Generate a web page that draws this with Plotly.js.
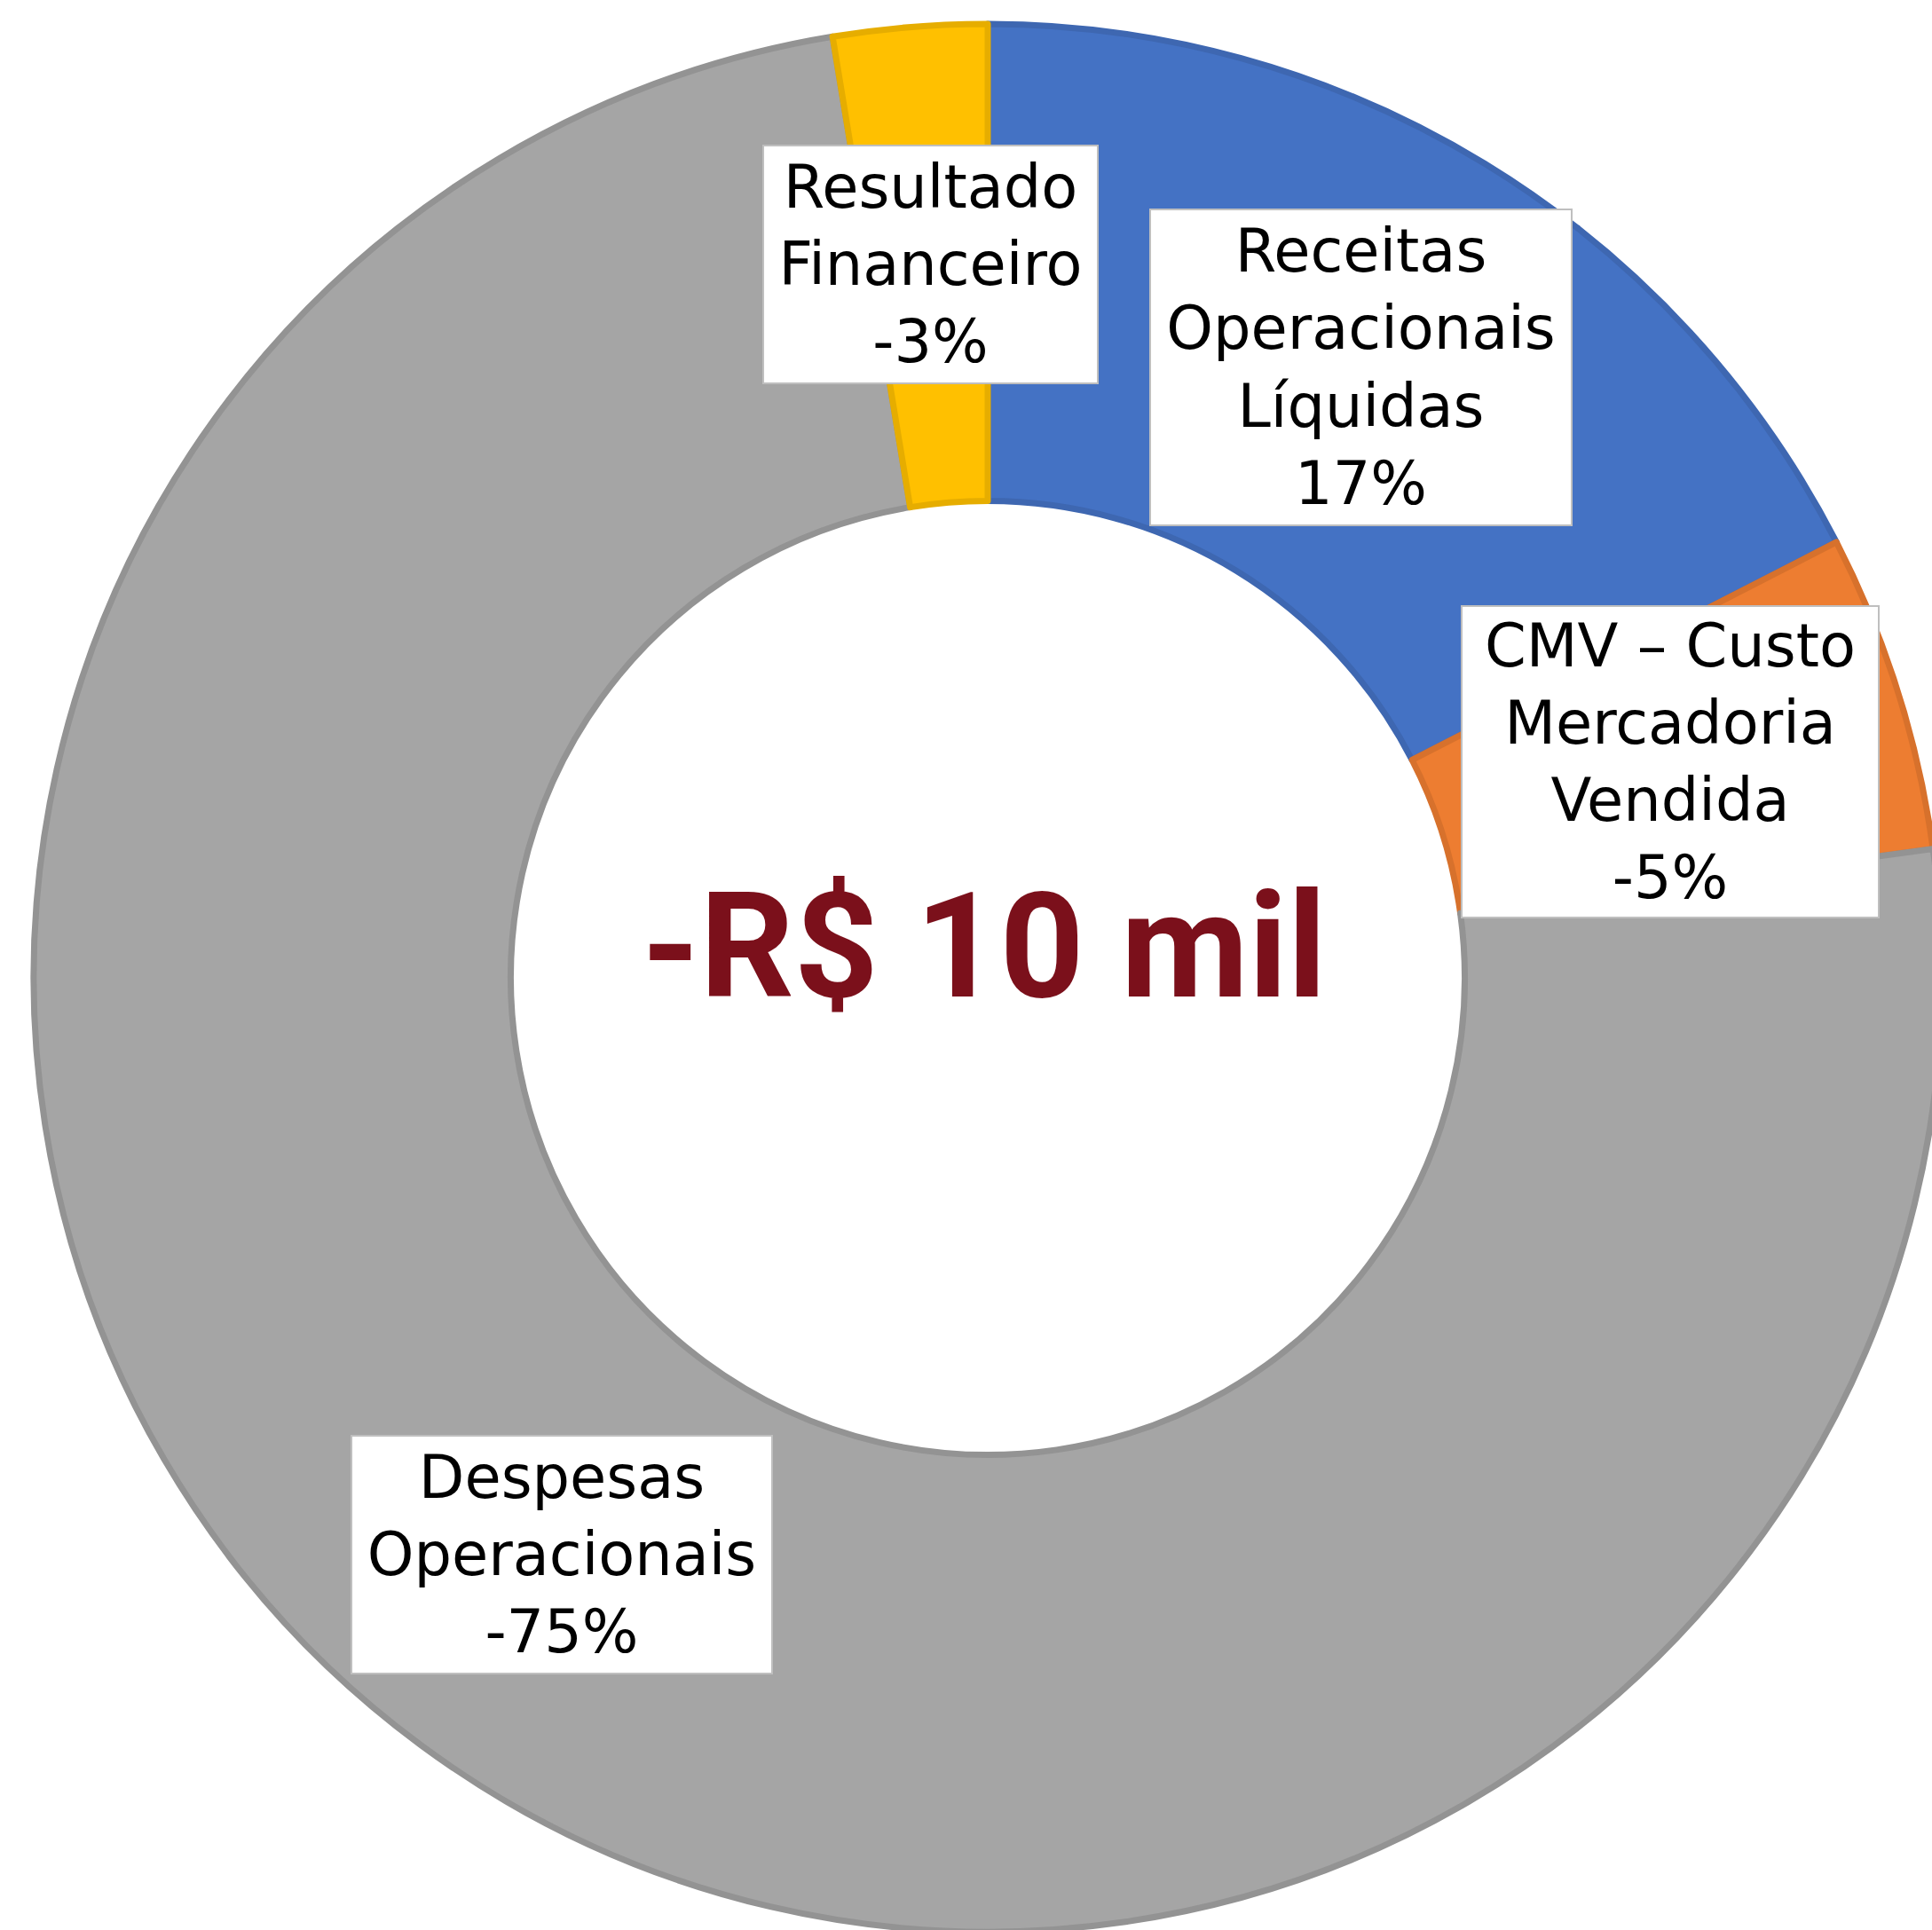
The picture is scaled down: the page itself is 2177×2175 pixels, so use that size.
<!DOCTYPE html>
<html>
<head>
<meta charset="utf-8">
<script src="https://cdn.plot.ly/plotly-3.0.1.min.js"></script>
<style>
html, body { margin: 0; padding: 0; overflow: hidden; background: #ffffff; }
#chart { width: 2200px; height: 2200px; }
</style>
</head>
<body>
<div id="chart"></div>
<script>
// ---- data ----
var categories = ['Receitas Operacionais Líquidas', 'CMV – Custo Mercadoria Vendida', 'Despesas Operacionais', 'Resultado Financeiro'];
var labelLines = ['Receitas<br>Operacionais<br>Líquidas', 'CMV – Custo<br>Mercadoria<br>Vendida', 'Despesas<br>Operacionais', 'Resultado<br>Financeiro'];
var shares = [17.45, 5.39, 74.56, 2.6];
var shareLabels = ['17%', '-5%', '-75%', '-3%'];
var centerLabel = '-R$ 10 mil';

// ---- styles ----
var fillColors = ['#4472c4', '#ed7d31', '#a5a5a5', '#ffc000'];
var lineColors = ['#3e67b1', '#d7712c', '#939393', '#e6ad00'];

var W = 2200, H = 2200;
function px(x) { return x / W; }
function py(y) { return 1 - y / H; }

// label box geometry (pixels): center x, center y, width, height
var boxes = [
  [1533, 414, 475, 356],
  [1882, 858, 470, 351],
  [633, 1752, 474, 268],
  [1048, 298, 377, 268]
];

var annotations = [];
for (var i = 0; i < categories.length; i++) {
  var b = boxes[i];
  annotations.push({
    xref: 'paper', yref: 'paper',
    x: px(b[0]), y: py(b[1]),
    xanchor: 'center', yanchor: 'middle',
    showarrow: false,
    text: labelLines[i] + '<br>' + shareLabels[i],
    align: 'center',
    valign: 'middle',
    width: b[2] - 2, height: b[3] - 2,
    bgcolor: '#ffffff',
    bordercolor: '#bfbfbf',
    borderwidth: 2,
    borderpad: 0,
    font: { family: 'DejaVu Sans', size: 67, color: '#000000' }
  });
}
annotations.push({
  xref: 'paper', yref: 'paper',
  x: px(1109), y: py(1066),
  xanchor: 'center', yanchor: 'middle',
  showarrow: false,
  text: '<b>' + centerLabel + '</b>',
  font: { family: 'Roboto', size: 166, color: '#7b101b' }
});

var trace = {
  type: 'pie',
  labels: categories,
  values: shares,
  sort: false,
  direction: 'clockwise',
  rotation: 0,
  hole: 0.5,
  textinfo: 'none',
  textposition: 'none',
  hoverinfo: 'skip',
  showlegend: false,
  marker: { colors: fillColors, line: { color: lineColors, width: 7 } },
  domain: { x: [px(38), px(2188)], y: [py(2177), py(27)] }
};

var layout = {
  width: W, height: H,
  margin: { l: 0, r: 0, t: 0, b: 0, pad: 0 },
  paper_bgcolor: '#ffffff',
  plot_bgcolor: '#ffffff',
  showlegend: false,
  annotations: annotations
};

Plotly.newPlot('chart', [trace], layout, { displayModeBar: false, staticPlot: true });
</script>
</body>
</html>
